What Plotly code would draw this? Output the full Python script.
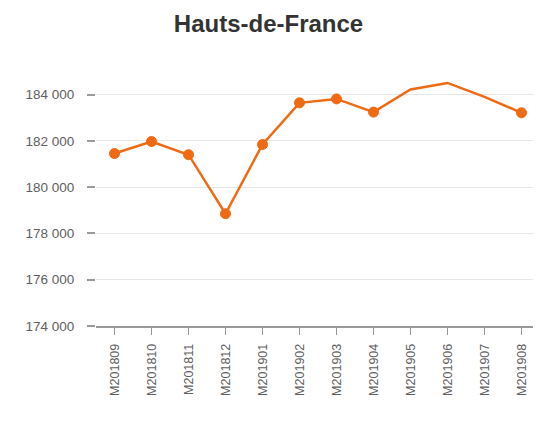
import plotly.graph_objects as go

months = ["M201809", "M201810", "M201811", "M201812", "M201901", "M201902",
          "M201903", "M201904", "M201905", "M201906", "M201907", "M201908"]
values = [181450, 181970, 181400, 178850, 181840, 183640,
          183810, 183240, 184220, 184500, 183900, 183210]
marker_sizes = [10, 10, 10, 10, 10, 10, 10, 10, 0, 0, 0, 10]
y_ticks = [174000, 176000, 178000, 180000, 182000, 184000]

orange = "#EF6A12"

fig = go.Figure()
fig.add_trace(go.Scatter(
    x=months, y=values, mode="lines+markers",
    line=dict(color=orange, width=2.5),
    marker=dict(color=orange, size=marker_sizes, opacity=1,
                line=dict(width=1, color=orange)),
    showlegend=False, cliponaxis=False,
))

# page body has an 8px margin, so the figure is sized to fit the window
fig.update_layout(
    width=533, height=414,
    margin=dict(l=88, r=1, t=68, b=96),
    paper_bgcolor="white", plot_bgcolor="white",
    separators=", ",
    font=dict(family="Liberation Sans, Arial, sans-serif", color="#606060", size=12),
    title=dict(text="<b>Hauts-de-France</b>", x=0.5 - 6 / 533, xanchor="center",
               y=1 - 16 / 414, yanchor="middle",
               font=dict(size=24, color="#333333")),
)
fig.update_xaxes(
    type="category", range=[-0.5, 11.5],
    showgrid=False, showline=True, linecolor="#999999", linewidth=1.5,
    ticks="outside", ticklen=7, tickcolor="#999999", tickwidth=1,
    tickangle=-90, tickfont=dict(size=12.5, color="#606060"),
    ticklabelstandoff=4,
)
fig.update_yaxes(
    range=[174000, 184800], tickvals=y_ticks, tickformat=",d",
    showgrid=True, gridcolor="#e6e6e6", gridwidth=1,
    zeroline=False, showline=False,
    ticks="outside", ticklen=8, tickcolor="#999999", tickwidth=1.5,
    tickfont=dict(size=13.5, color="#606060"),
    ticklabelstandoff=10,
)

fig.write_html("out.html")
